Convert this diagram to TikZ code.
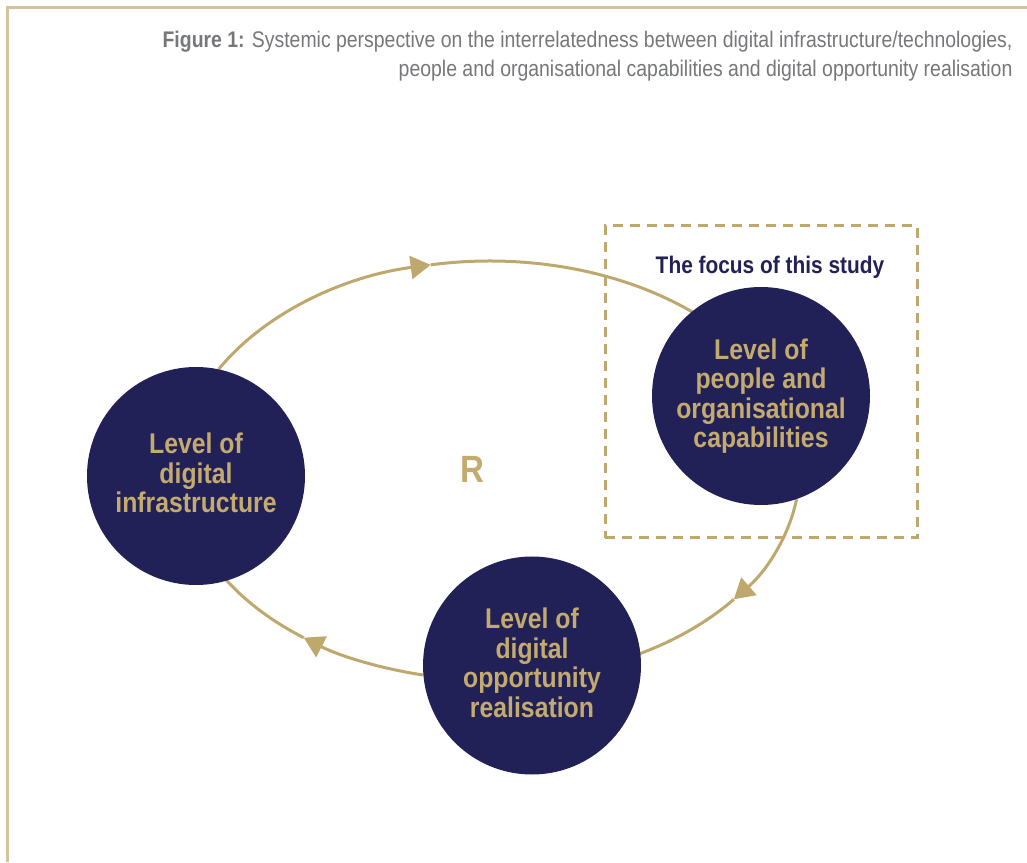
\documentclass[tikz,border=0pt]{standalone}
\usepackage{fontspec}
\setmainfont{Liberation Sans}[FakeStretch=0.87]
\newfontfamily\titlefont{Liberation Sans}[FakeStretch=0.86]
\usetikzlibrary{arrows.meta}
\pgfdeclarelayer{bg}
\pgfsetlayers{bg,main}
\definecolor{navy}{HTML}{222157}
\definecolor{gold}{HTML}{C3AA6E}
\definecolor{arcgold}{HTML}{BFA86E}
\definecolor{framecol}{HTML}{D3C49D}
\definecolor{titlegrey}{HTML}{76777A}
\begin{document}
\begin{tikzpicture}[x=1pt,y=1pt,
  level/.style={circle, fill=navy, minimum size=218pt, inner sep=0pt, text=gold, align=center,
    font=\bfseries\fontsize{28.5}{29.5}\selectfont},
  cycleline/.style={draw=arcgold, line width=3pt},
  tiparrow/.style={-{Triangle[length=20pt,width=23pt]}},
  ell/.style={x radius=310pt, y radius=210pt},
  focusbox/.style={draw=arcgold, line width=3pt, dash pattern=on 10pt off 7pt, inner sep=0pt},
  titletext/.style={anchor=base east, text=titlegrey, font=\titlefont\fontsize{22.6}{29}\selectfont}
]
\useasboundingbox (0,0) rectangle (1027,862);
\draw[framecol, line width=2.5pt] (7.5,0) -- (7.5,854.5) -- (1027,854.5);

\node[titletext] (t1) at (1016,814) {\textbf{Figure 1:} Systemic perspective on the interrelatedness between digital infrastructure/technologies,};
\node[titletext] (t2) at (1016,785) {people and organisational capabilities and digital opportunity realisation};

\node[focusbox, minimum width=312pt, minimum height=312pt] (F) at (761,480) {};
\node[anchor=base, text=navy, font=\bfseries\fontsize{24}{24}\selectfont] (FL) at (770,588) {The focus of this study};

\node[level] (L) at (196,386) {Level of\\digital\\infrastructure\\[-23.5pt]\mbox{}};
\node[level] (P) at (761,466) {Level of\\people and\\organisational\\capabilities};
\node[level] (O) at (532,196.5) {Level of\\digital\\opportunity\\realisation\\[-23.5pt]\mbox{}};

\node[text=gold, font=\bfseries\fontsize{38}{38}\selectfont] (R) at (472.5,393) {R};

\begin{pgfonlayer}{bg}
\draw[cycleline, tiparrow] (L.78) arc[start angle=151, end angle=101, ell] coordinate (m1);
\draw[cycleline] (m1) arc[start angle=101, end angle=46, ell];
\draw[cycleline, tiparrow] (P.-71) arc[start angle=-8, end angle=-38, ell] coordinate (m2);
\draw[cycleline] (m2) arc[start angle=-38, end angle=-64, ell];
\draw[cycleline, tiparrow] (O.185) arc[start angle=-102.5, end angle=-127, ell] coordinate (m3);
\draw[cycleline] (m3) arc[start angle=-127, end angle=-152, ell];
\end{pgfonlayer}
\end{tikzpicture}
\end{document}
